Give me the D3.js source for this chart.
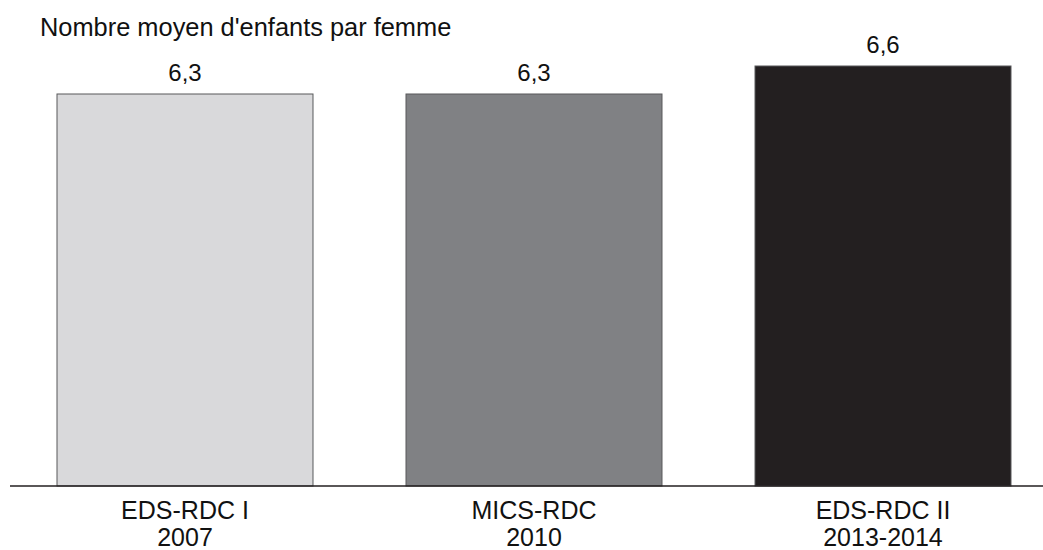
<!DOCTYPE html>
<html><head><meta charset="utf-8">
<script src="https://cdn.jsdelivr.net/npm/d3@7"></script>
<style>body{margin:0;background:#fff;}svg{display:block;font-family:"Liberation Sans",Arial,sans-serif;}</style>
</head><body><svg id="c" width="1043" height="550"></svg>
<script>
const categories = [["EDS-RDC I","2007"],["MICS-RDC","2010"],["EDS-RDC II","2013-2014"]];
const values = [6.3, 6.3, 6.6];
const labels = ["6,3","6,3","6,6"];
const colors = ["#d9d9db","#808184","#231f20"];
const title = "Nombre moyen d'enfants par femme";

const svg = d3.select("#c");
const x = d3.scaleBand().domain(d3.range(categories.length)).range([57, 1011]).paddingInner(0.2665).paddingOuter(0);
const y = d3.scaleLinear().domain([2.1, 6.6]).range([486, 66]);

svg.append("text").attr("x", 40).attr("y", 36).attr("font-size", 25.4).attr("fill", "#111").text(title);

svg.selectAll("rect.bar").data(values).join("rect").attr("class","bar")
  .attr("x", (d,i)=>x(i)).attr("width", x.bandwidth())
  .attr("y", d=>y(d)).attr("height", d=>y.range()[0]-y(d))
  .attr("fill", (d,i)=>colors[i]).attr("stroke", "#58595b").attr("stroke-width", 1);

svg.selectAll("text.val").data(values).join("text").attr("class","val")
  .attr("x", (d,i)=>x(i)+x.bandwidth()/2).attr("y", d=>y(d)-13)
  .attr("text-anchor","middle").attr("font-size", 24).attr("fill","#111")
  .text((d,i)=>labels[i]);

svg.append("line").attr("x1", 10).attr("x2", 1043).attr("y1", 486).attr("y2", 486).attr("stroke","#231f20").attr("stroke-width",1.3);

const g = svg.selectAll("text.cat").data(categories).join("text").attr("class","cat")
  .attr("x", (d,i)=>x(i)+x.bandwidth()/2).attr("text-anchor","middle").attr("font-size", 25).attr("fill","#111");
g.append("tspan").attr("x",(d,i)=>x(i)+x.bandwidth()/2).attr("y",519).text(d=>d[0]);
g.append("tspan").attr("x",(d,i)=>x(i)+x.bandwidth()/2).attr("y",546).text(d=>d[1]);
</script></body></html>
